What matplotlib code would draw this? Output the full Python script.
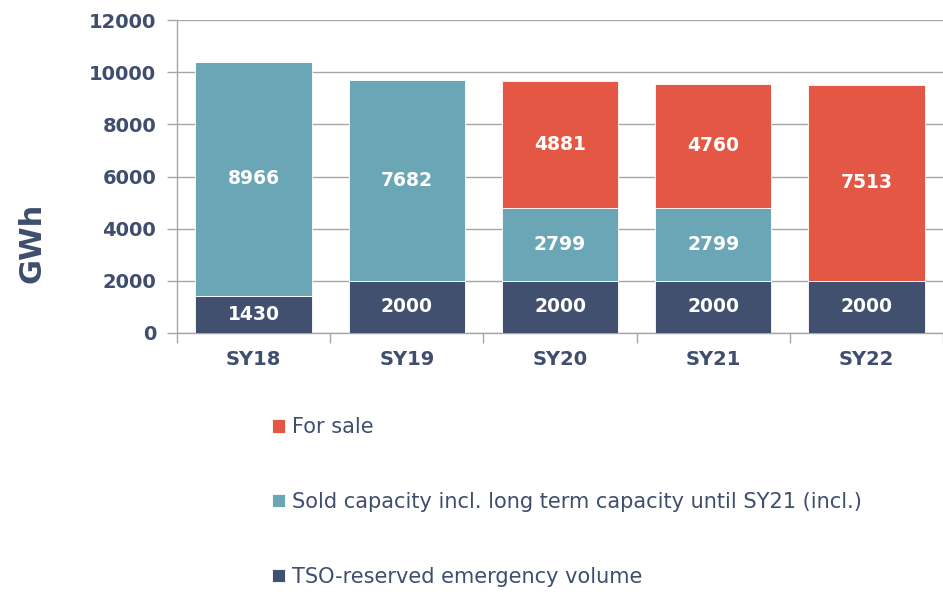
import matplotlib
matplotlib.use("Agg")
import matplotlib.pyplot as plt
import numpy as np

categories = ["SY18", "SY19", "SY20", "SY21", "SY22"]
tso_reserved = [1430, 2000, 2000, 2000, 2000]
sold_capacity = [8966, 7682, 2799, 2799, 0]
for_sale = [0, 0, 4881, 4760, 7513]
y_ticks = [0, 2000, 4000, 6000, 8000, 10000, 12000]

c_navy = "#41506F"
c_teal = "#6AA6B5"
c_red = "#E35744"
c_text = "#3F4E6E"
c_grid = "#A6A6A6"

fig = plt.figure(figsize=(9.43, 5.92), dpi=100)
ax = fig.add_axes([0.1877, 0.4375, 0.8123, 0.5287])

x = np.arange(len(categories))
w = 0.76
tso = np.array(tso_reserved)
sold = np.array(sold_capacity)
sale = np.array(for_sale)

b1 = ax.bar(x, tso, w, color=c_navy, edgecolor="white", linewidth=0.6, zorder=3,
            label="TSO-reserved emergency volume")
b2 = ax.bar(x, sold, w, bottom=tso, color=c_teal, edgecolor="white", linewidth=0.6, zorder=3,
            label="Sold capacity incl. long term capacity until SY21 (incl.)")
b3 = ax.bar(x, sale, w, bottom=tso + sold, color=c_red, edgecolor="white", linewidth=0.6, zorder=3,
            label="For sale")

for i in range(len(categories)):
    for val, bot in ((tso[i], 0), (sold[i], tso[i]), (sale[i], tso[i] + sold[i])):
        if val > 0:
            ax.text(x[i], bot + val / 2, f"{val}", ha="center", va="center",
                    color="white", fontsize=13.5, fontweight="bold", zorder=4)

ax.set_xlim(-0.5, len(categories) - 0.5)
ax.set_ylim(0, 12000)
ax.set_yticks(y_ticks)
ax.set_yticklabels([str(t) for t in y_ticks])
ax.yaxis.grid(True, color=c_grid, linewidth=1.0, zorder=0)
ax.set_axisbelow(True)

ax.set_xticks(x)
ax.set_xticklabels(categories)
ax.set_xticks(np.arange(-0.5, len(categories), 1.0), minor=True)
ax.tick_params(axis="x", which="major", length=0, pad=12)
ax.tick_params(axis="x", which="minor", length=7, color=c_grid, width=1)
ax.tick_params(axis="y", length=7, color=c_grid, width=1, pad=8)

for lab in ax.get_xticklabels() + ax.get_yticklabels():
    lab.set_fontsize(14)
    lab.set_fontweight("bold")
    lab.set_color(c_text)

for s in ["top", "right"]:
    ax.spines[s].set_visible(False)
for s in ["left", "bottom"]:
    ax.spines[s].set_color(c_grid)
    ax.spines[s].set_linewidth(1.0)

fig.text(0.034, 0.59, "GWh", rotation=90, ha="center", va="center",
         fontsize=22, fontweight="bold", color=c_text)

leg = fig.legend(handles=[b3, b2, b1], loc="upper left",
                 bbox_to_anchor=(0.280, 0.309), frameon=False,
                 fontsize=15, labelspacing=2.63, handlelength=0.6,
                 handleheight=0.6, handletextpad=0.35, borderaxespad=0)
for t in leg.get_texts():
    t.set_color(c_text)

fig.savefig("out.png", dpi=100)
